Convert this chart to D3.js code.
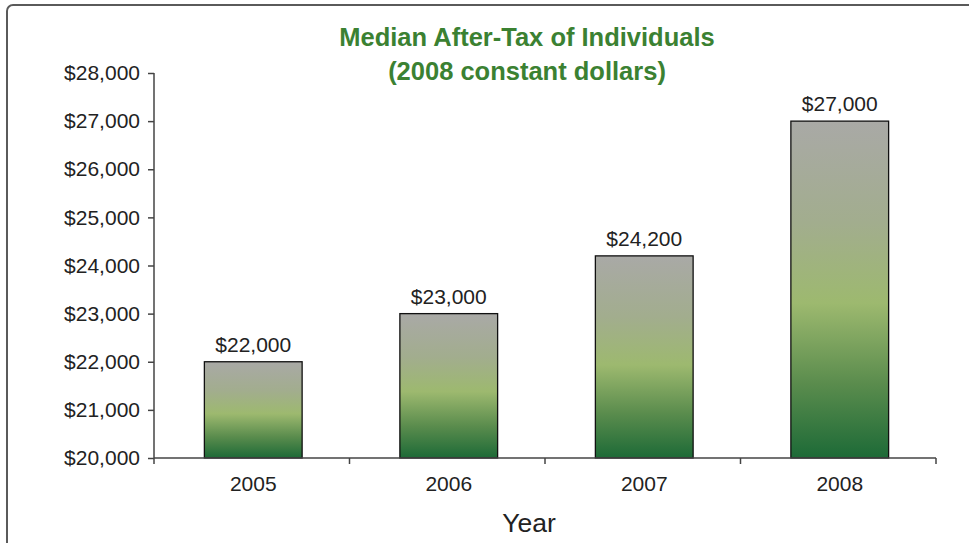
<!DOCTYPE html>
<html><head><meta charset="utf-8">
<script src="https://cdn.jsdelivr.net/npm/d3@7/dist/d3.min.js"></script>
<style>
body{margin:0;background:#fff;}
svg{display:block;font-family:"Liberation Sans",Arial,Helvetica,sans-serif;}
</style></head>
<body>
<svg id="chart" width="969" height="543"></svg>
<script>
const years = ["2005", "2006", "2007", "2008"];
const values = [22000, 23000, 24200, 27000];
const yTicks = [20000, 21000, 22000, 23000, 24000, 25000, 26000, 27000, 28000];
const titleLines = ["Median After-Tax of Individuals", "(2008 constant dollars)"];
const xTitle = "Year";

const svg = d3.select("#chart");
const W = 969, H = 543;
const m = {left: 154, right: 33, top: 73, bottom: 85};

// frame
svg.append("rect").attr("x", 7).attr("y", 5).attr("width", 990).attr("height", 600)
  .attr("rx", 6).attr("fill", "none").attr("stroke", "#5a5a5a").attr("stroke-width", 2);

const defs = svg.append("defs");
const g = defs.append("linearGradient").attr("id", "barGrad")
  .attr("x1", 0).attr("y1", 0).attr("x2", 0).attr("y2", 1);
[[0, "#a9a9a6"], [0.3, "#a2ad8e"], [0.54, "#9db96f"], [0.78, "#5a8c4d"], [1, "#1d6a37"]]
  .forEach(([o, c]) => g.append("stop").attr("offset", o).attr("stop-color", c));

const x = d3.scaleBand().domain(years).range([m.left, W - m.right]).paddingInner(0.5).paddingOuter(0.25);
const y = d3.scaleLinear().domain([20000, 28000]).range([H - m.bottom, m.top]);
const shift = 1.5;

// bars
svg.selectAll("rect.bar").data(values).join("rect").attr("class", "bar")
  .attr("x", (d, i) => x(years[i]) + shift)
  .attr("y", d => y(d))
  .attr("width", x.bandwidth())
  .attr("height", d => y(20000) - y(d))
  .attr("fill", "url(#barGrad)")
  .attr("stroke", "#111").attr("stroke-width", 1.3);

// value labels
svg.selectAll("text.val").data(values).join("text").attr("class", "val")
  .attr("x", (d, i) => x(years[i]) + x.bandwidth() / 2 + shift)
  .attr("y", d => y(d) - 10)
  .attr("text-anchor", "middle").attr("font-size", 21).attr("fill", "#222")
  .text(d => "$" + d3.format(",")(d));

// y axis
const fmt = d => "$" + d3.format(",")(d);
const ya = svg.append("g").attr("transform", `translate(${m.left},0)`)
  .call(d3.axisLeft(y).tickValues(yTicks).tickFormat(fmt).tickSize(6).tickPadding(8));
ya.selectAll("path,line").attr("stroke", "#444").attr("stroke-width", 1.5);
ya.select(".domain").attr("d", `M0,${y(28000)}V${y(20000)}`);
ya.selectAll("text").attr("font-size", 21).attr("fill", "#222").attr("font-family", "Liberation Sans, Arial, sans-serif");

// x axis
const xa = svg.append("g").attr("transform", `translate(0,${y(20000)})`)
  .call(d3.axisBottom(x).tickSize(0).tickPadding(18));
xa.select(".domain").attr("d", `M${m.left},0H${W - m.right}`).attr("stroke", "#444").attr("stroke-width", 1.5);
xa.selectAll(".tick").attr("transform", d => `translate(${x(d) + x.bandwidth() / 2 + shift},0)`);
xa.selectAll("text").attr("font-size", 21).attr("fill", "#222").attr("font-family", "Liberation Sans, Arial, sans-serif");
const bounds = d3.range(years.length + 1).map(i => m.left + i * (W - m.right - m.left) / years.length);
xa.selectAll("line.bt").data(bounds).join("line").attr("class", "bt")
  .attr("x1", d => d).attr("x2", d => d).attr("y1", 0).attr("y2", 6)
  .attr("stroke", "#444").attr("stroke-width", 1.5);

// titles
const t = svg.append("text").attr("text-anchor", "middle").attr("font-weight", "bold")
  .attr("font-size", 25.5).attr("fill", "#3b8132");
titleLines.forEach((s, i) => t.append("tspan").attr("x", 527).attr("y", 46 + i * 34).text(s));

svg.append("text").attr("x", 529).attr("y", 532).attr("text-anchor", "middle")
  .attr("font-size", 26.5).attr("fill", "#222").text(xTitle);
</script>
</body></html>
